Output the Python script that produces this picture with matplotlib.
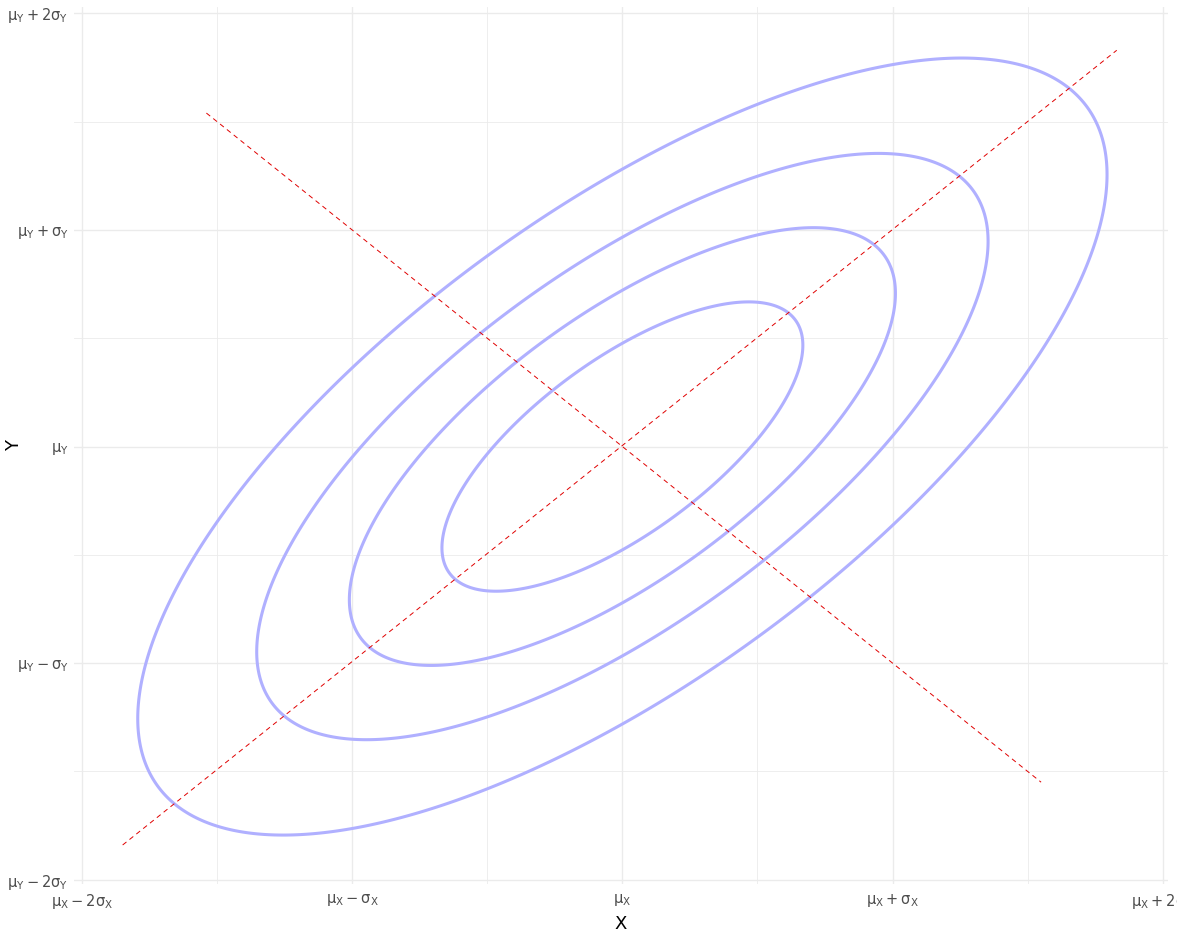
import numpy as np
import matplotlib
matplotlib.use('Agg')
import matplotlib.pyplot as plt

plt.rcParams['font.family'] = ['DejaVu Sans']
plt.rcParams['mathtext.fontset'] = 'dejavusans'
plt.rcParams['mathtext.default'] = 'regular'

# bivariate normal in standardised units
RHO = 0.7
LEVELS = [0.2, 0.4, 0.6, 0.8]          # fraction of peak density

# principal axis segments (in sigma units)
major_x = [-1.85, 1.83]
major_y = [-1.84, 1.83]
minor_x = [-1.54, 1.55]
minor_y = [1.54, -1.55]

ticks = [-2, -1, 0, 1, 2]
x_labels = [r'$\mu_X-2\sigma_X$', r'$\mu_X-\sigma_X$', r'$\mu_X$',
            r'$\mu_X+\sigma_X$', r'$\mu_X+2\sigma_X$']
y_labels = [r'$\mu_Y-2\sigma_Y$', r'$\mu_Y-\sigma_Y$', r'$\mu_Y$',
            r'$\mu_Y+\sigma_Y$', r'$\mu_Y+2\sigma_Y$']

fig = plt.figure(figsize=(11.77, 9.41), dpi=100)
ax = fig.add_axes([0.0629, 0.0606, 0.9295, 0.932])

# density relative to its peak
g = np.linspace(-2.2, 2.2, 600)
X, Y = np.meshgrid(g, g)
q = (X**2 - 2 * RHO * X * Y + Y**2) / (1 - RHO**2)
dens = np.exp(-0.5 * q)
ax.contour(X, Y, dens, levels=LEVELS, colors='#b0b0ff', linewidths=2.2)

ax.plot(major_x, major_y, color='#e00000', lw=0.7, ls=(0, (5, 4)))
ax.plot(minor_x, minor_y, color='#e00000', lw=0.7, ls=(0, (5, 4)))

ax.set_xlim(-2.03, 2.02)
ax.set_ylim(-2.02, 2.03)
ax.set_xticks(ticks)
ax.set_xticklabels(x_labels)
ax.set_yticks(ticks)
ax.set_yticklabels(y_labels)
ax.set_xticks(np.arange(-1.5, 2, 1), minor=True)
ax.set_yticks(np.arange(-1.5, 2, 1), minor=True)

ax.grid(True, which='major', color='#ebebeb', lw=1.0)
ax.grid(True, which='minor', color='#ebebeb', lw=0.6)
ax.set_axisbelow(True)
for s in ax.spines.values():
    s.set_visible(False)
ax.tick_params(which='both', length=0, labelsize=10.5, labelcolor='#4d4d4d')
ax.tick_params(axis='x', pad=6)
ax.tick_params(axis='y', pad=4)

ax.set_xlabel('X', fontsize=13)
ax.set_ylabel('Y', fontsize=13)
ax.xaxis.set_label_coords(0.5, -0.035)
ax.yaxis.set_label_coords(-0.047, 0.5)

fig.savefig('out.png', dpi=100)
